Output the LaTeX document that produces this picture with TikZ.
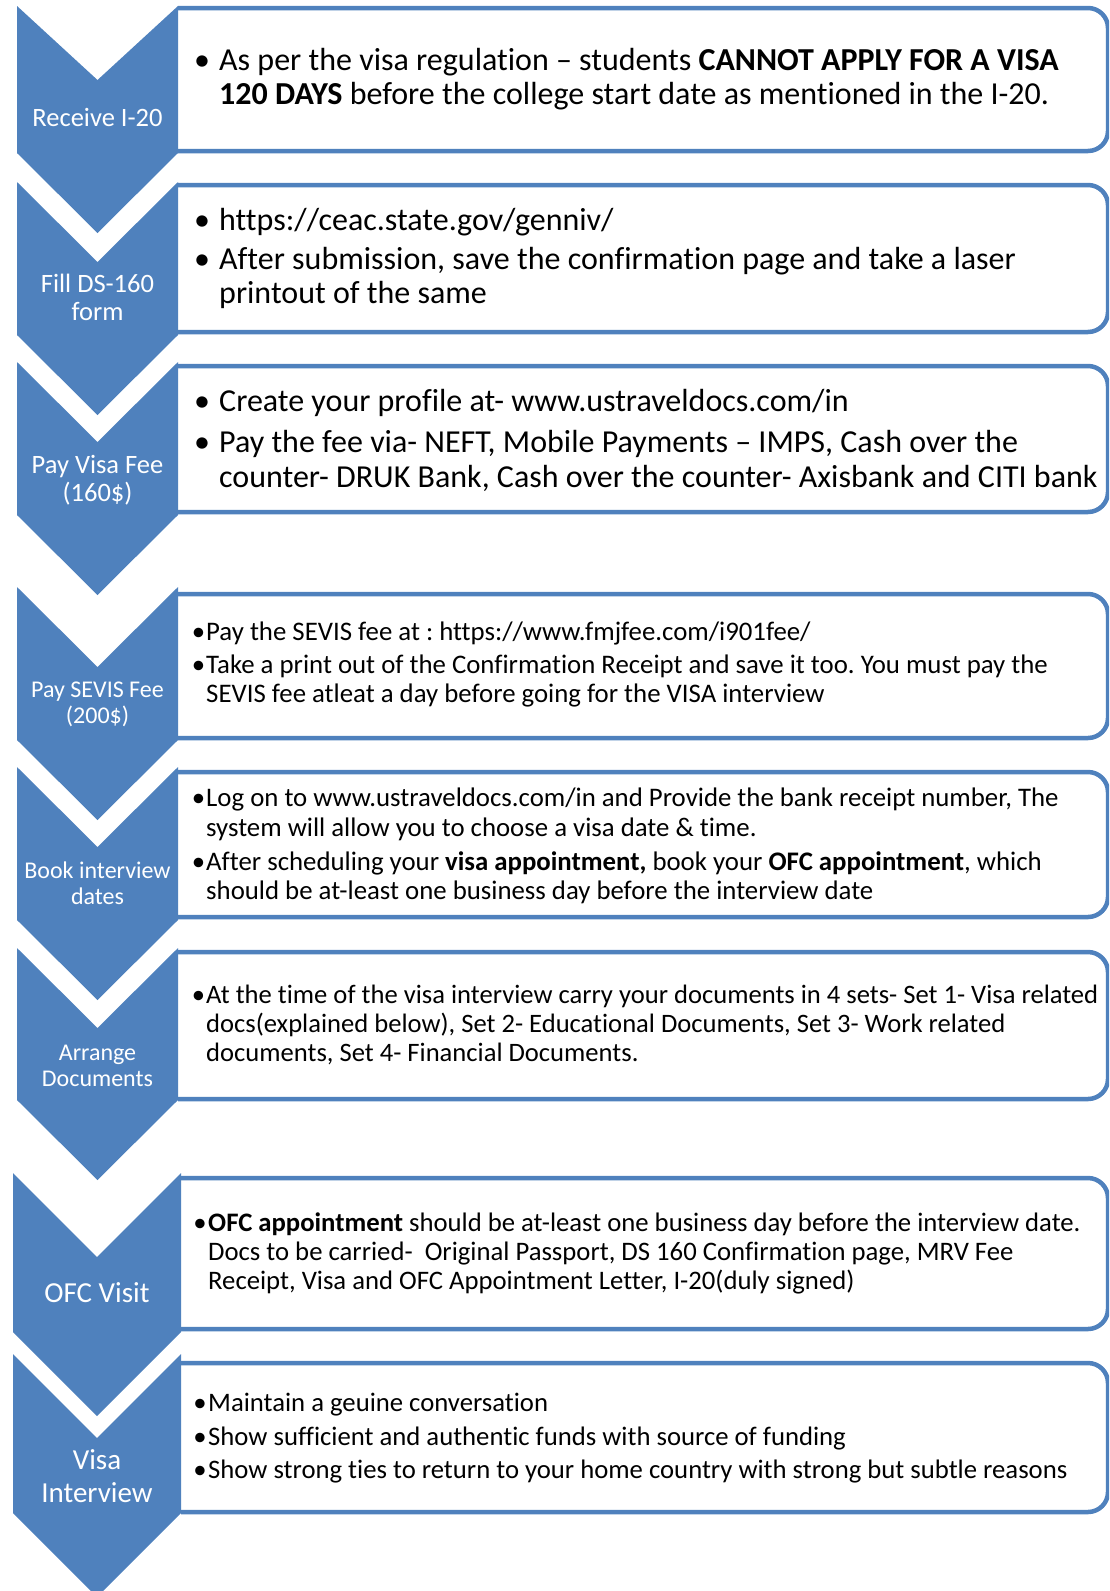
\documentclass[tikz,border=0pt]{standalone}
\usepackage{fontspec}
\setmainfont[Ligatures={NoCommon}]{Carlito}
\frenchspacing
\definecolor{accent}{RGB}{79,129,189}
\begin{document}
\begin{tikzpicture}[x=1pt,y=-1pt,
  chev/.style={fill=accent,draw=none},
  card/.style={draw=accent,line width=4.5pt,fill=white,rounded corners=20pt},
  lbl/.style={text=white,anchor=base,inner sep=0pt,font=\fontsize{#1}{#1}\selectfont},
  txt/.style={text=black,anchor=base west,inner sep=0pt,font=\fontsize{#1}{#1}\selectfont},
  bul/.style={text=black,anchor=base,inner sep=0pt,font=\fontsize{#1}{#1}\selectfont}]
\useasboundingbox (0,0) rectangle (1109,1591);
\clip (0,0) rectangle (1109,1591);
% cards
\path[card] (178,8) -- (1108,8) -- (1108,151) -- (178,151);
\path[card] (178,185) -- (1108,185) -- (1108,332) -- (178,332);
\path[card] (178,366) -- (1108,366) -- (1108,512) -- (178,512);
\path[card] (178,594) -- (1108,594) -- (1108,738) -- (178,738);
\path[card] (178,772) -- (1108,772) -- (1108,917) -- (178,917);
\path[card] (178,952) -- (1108,952) -- (1108,1099) -- (178,1099);
\path[card] (181,1178) -- (1108,1178) -- (1108,1329) -- (181,1329);
\path[card] (181,1363) -- (1108,1363) -- (1108,1512) -- (181,1512);
% chevrons
\fill[chev] (17,6) -- (97.5,80) -- (178,6) -- (178,153) -- (97.5,233) -- (17,153) -- cycle;
\fill[chev] (17,182) -- (97.5,262) -- (178,182) -- (178,335) -- (97.5,415) -- (17,335) -- cycle;
\fill[chev] (17,362) -- (97.5,442) -- (178,362) -- (178,515) -- (97.5,595) -- (17,515) -- cycle;
\fill[chev] (17,587) -- (97.5,667) -- (178,587) -- (178,740) -- (97.5,820) -- (17,740) -- cycle;
\fill[chev] (17,767) -- (97.5,847) -- (178,767) -- (178,920) -- (97.5,1000) -- (17,920) -- cycle;
\fill[chev] (17,948) -- (97.5,1028) -- (178,948) -- (178,1100) -- (97.5,1180) -- (17,1100) -- cycle;
\fill[chev] (13,1173) -- (97,1257) -- (181,1173) -- (181,1332) -- (97,1416) -- (13,1332) -- cycle;
\fill[chev] (13,1354) -- (97,1438) -- (181,1354) -- (181,1513) -- (97,1597) -- (13,1513) -- cycle;
% chevron labels
\node[lbl=26.5] (l1) at (97.5,126) {Receive I-20};
\node[lbl=26.5] (l2a) at (97.5,292) {Fill DS-160};
\node[lbl=26.5] (l2b) at (97.5,320) {form};
\node[lbl=26.5] (l3a) at (97.5,473) {Pay Visa Fee};
\node[lbl=26.5] (l3b) at (97.5,501) {(160\$)};
\node[lbl=24] (l4a) at (97.5,697) {Pay SEVIS Fee};
\node[lbl=24] (l4b) at (97.5,723) {(200\$)};
\node[lbl=24] (l5a) at (97.5,878) {Book interview};
\node[lbl=24] (l5b) at (97.5,904) {dates};
\node[lbl=24] (l6a) at (97.5,1060) {Arrange};
\node[lbl=24] (l6b) at (97.5,1086) {Documents};
\node[lbl=29] (l7) at (97,1302) {OFC Visit};
\node[lbl=29] (l8a) at (97,1469) {Visa};
\node[lbl=29] (l8b) at (97,1502) {Interview};
% box 1
\node[bul=32] (u1a) at (202,70) {•};
\node[txt=32] (t1a) at (219,70) {As per the visa regulation – students \textbf{CANNOT APPLY FOR A VISA}};
\node[txt=32] (t1b) at (219,104) {\textbf{120 DAYS} before the college start date as mentioned in the I-20.};
% box 2
\node[bul=32] (u2a) at (202,230) {•};
\node[txt=32] (t2a) at (219,230) {https://ceac.state.gov/genniv/};
\node[bul=32] (u2b) at (202,269) {•};
\node[txt=32] (t2b) at (219,269) {After submission, save the confirmation page and take a laser};
\node[txt=32] (t2c) at (219,303) {printout of the same};
% box 3
\node[bul=32] (u3a) at (202,411) {•};
\node[txt=32] (t3a) at (219,411) {Create your profile at- www.ustraveldocs.com/in};
\node[bul=32] (u3b) at (202,452) {•};
\node[txt=32] (t3b) at (219,452) {Pay the fee via- NEFT, Mobile Payments – IMPS, Cash over the};
\node[txt=32] (t3c) at (219,487) {counter- DRUK Bank, Cash over the counter- Axisbank and CITI bank};
% box 4
\node[bul=26.8] (u4a) at (198.5,640) {•};
\node[txt=26.8] (t4a) at (206,640) {Pay the SEVIS fee at : https://www.fmjfee.com/i901fee/};
\node[bul=26.8] (u4b) at (198.5,673) {•};
\node[txt=26.8] (t4b) at (206,673) {Take a print out of the Confirmation Receipt and save it too. You must pay the};
\node[txt=26.8] (t4c) at (206,702) {SEVIS fee atleat a day before going for the VISA interview};
% box 5
\node[bul=26.8] (u5a) at (198.5,806) {•};
\node[txt=26.8] (t5a) at (206,806) {Log on to www.ustraveldocs.com/in and Provide the bank receipt number, The};
\node[txt=26.8] (t5b) at (206,836) {system will allow you to choose a visa date \& time.};
\node[bul=26.8] (u5c) at (198.5,870) {•};
\node[txt=26.8] (t5c) at (206,870) {After scheduling your \textbf{visa appointment,} book your \textbf{OFC appointment}, which};
\node[txt=26.8] (t5d) at (206,899) {should be at-least one business day before the interview date};
% box 6
\node[bul=26.6] (u6a) at (198.5,1003) {•};
\node[txt=26.6] (t6a) at (206,1003) {At the time of the visa interview carry your documents in 4 sets- Set 1- Visa related};
\node[txt=26.6] (t6b) at (206,1032) {docs(explained below), Set 2- Educational Documents, Set 3- Work related};
\node[txt=26.6] (t6c) at (206,1061) {documents, Set 4- Financial Documents.};
% box 7
\node[bul=26.7] (u7a) at (200,1231) {•};
\node[txt=26.7] (t7a) at (208,1231) {\textbf{OFC appointment} should be at-least one business day before the interview date.};
\node[txt=26.7] (t7b) at (208,1260) {Docs to be carried-\ \ Original Passport, DS 160 Confirmation page, MRV Fee};
\node[txt=26.7] (t7c) at (208,1289) {Receipt, Visa and OFC Appointment Letter, I-20(duly signed)};
% box 8
\node[bul=26.7] (u8a) at (200,1411) {•};
\node[txt=26.7] (t8a) at (208,1411) {Maintain a geuine conversation};
\node[bul=26.7] (u8b) at (200,1445) {•};
\node[txt=26.7] (t8b) at (208,1445) {Show sufficient and authentic funds with source of funding};
\node[bul=26.7] (u8c) at (200,1478) {•};
\node[txt=26.7] (t8c) at (208,1478) {Show strong ties to return to your home country with strong but subtle reasons};
\end{tikzpicture}
\end{document}
